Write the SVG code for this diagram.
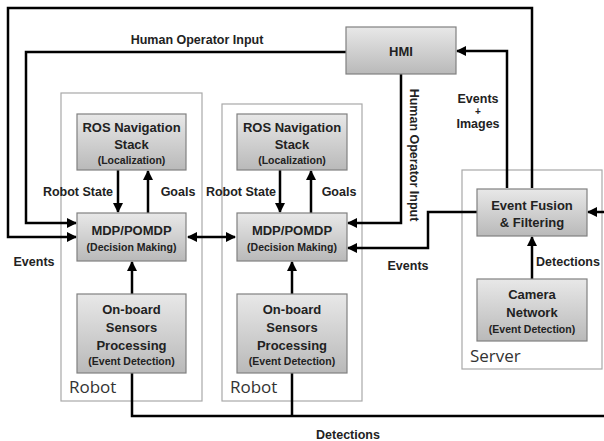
<svg xmlns="http://www.w3.org/2000/svg" width="604" height="441" viewBox="0 0 604 441">
<defs>
<linearGradient id="g" x1="0" y1="0" x2="0" y2="1">
<stop offset="0" stop-color="#e8e8e8"/>
<stop offset="1" stop-color="#b9b9b9"/>
</linearGradient>
<marker id="ah" viewBox="0 0 10 10" refX="9" refY="5" markerWidth="4" markerHeight="4" orient="auto-start-reverse" markerUnits="strokeWidth">
<path d="M0,0 L10,5 L0,10 z" fill="#000"/>
</marker>
<style>
.box{fill:url(#g);stroke:#808080;stroke-width:1.2}
.cont{fill:#fff;stroke:#a8a8a8;stroke-width:1.2}
.t{font-family:"Liberation Sans",Arial,sans-serif;font-weight:bold;font-size:13px;fill:#222;text-anchor:middle;dominant-baseline:central}
.s{font-size:10.5px}
.lab{font-family:"Liberation Sans",Arial,sans-serif;font-weight:bold;font-size:12.5px;fill:#222;dominant-baseline:central}
.big{font-family:"Open Sans","Liberation Sans",sans-serif;font-size:17px;fill:#333}
.c{fill:none;stroke:#000;stroke-width:2.5}
.a{marker-end:url(#ah)}
</style>
</defs>
<rect width="604" height="441" fill="#fff"/>
<g id="robot1"><rect class="cont" x="61" y="93" width="141" height="308"/><text class="big" x="69" y="393">Robot</text></g>
<g id="robot2"><rect class="cont" x="222" y="104" width="140" height="297"/><text class="big" x="230" y="393">Robot</text></g>
<g id="server"><rect class="cont" x="462" y="170" width="140" height="199"/><text class="big" x="470" y="362">Server</text></g>

<g id="connectors">
<path class="c a" d="M532,188 V8 H8 V237 H76"/>
<path class="c a" d="M346,52 H26 V223 H76"/>
<path class="c a" d="M401,74 V223 H348"/>
<path class="c a" d="M507,188 V51 H457"/>
<path class="c a" d="M477,212 H428 V248 H348"/>
<path class="c" d="M132,373 V416 H612"/>
<path class="c" d="M292,373 V416"/>
<path class="c a" d="M612,212 H588"/>
<path class="c a" d="M532,279 V237"/>
<path class="c a" d="M118,170 V212"/>
<path class="c a" d="M148,213 V171"/>
<path class="c a" d="M280,170 V212"/>
<path class="c a" d="M311,213 V171"/>
<path class="c a" d="M132,294 V262"/>
<path class="c a" d="M292,294 V262"/>
<path class="c a" style="marker-start:url(#ah)" d="M188,237 H235"/>
</g>

<g id="hmi"><rect class="box" x="346" y="27" width="110" height="47"/><text class="t" x="401" y="51">HMI</text></g>
<g id="ros1"><rect class="box" x="77" y="114" width="109" height="56"/><text class="t" x="131.5" y="127">ROS Navigation</text><text class="t" x="131.5" y="144">Stack</text><text class="t s" x="131.5" y="160">(Localization)</text></g>
<g id="ros2"><rect class="box" x="237" y="114" width="110" height="56"/><text class="t" x="292" y="127">ROS Navigation</text><text class="t" x="292" y="144">Stack</text><text class="t s" x="292" y="160">(Localization)</text></g>
<g id="mdp1"><rect class="box" x="77" y="213" width="109" height="48"/><text class="t" x="131.5" y="230">MDP/POMDP</text><text class="t s" x="131.5" y="247">(Decision Making)</text></g>
<g id="mdp2"><rect class="box" x="237" y="213" width="110" height="48"/><text class="t" x="292" y="230">MDP/POMDP</text><text class="t s" x="292" y="247">(Decision Making)</text></g>
<g id="onboard1"><rect class="box" x="77" y="294" width="109" height="79"/><text class="t" x="131.5" y="309">On-board</text><text class="t" x="131.5" y="327">Sensors</text><text class="t" x="131.5" y="345">Processing</text><text class="t s" x="131.5" y="361">(Event Detection)</text></g>
<g id="onboard2"><rect class="box" x="237" y="294" width="110" height="79"/><text class="t" x="292" y="309">On-board</text><text class="t" x="292" y="327">Sensors</text><text class="t" x="292" y="345">Processing</text><text class="t s" x="292" y="361">(Event Detection)</text></g>
<g id="fusion"><rect class="box" x="477" y="189" width="110" height="47"/><text class="t" x="532" y="205">Event Fusion</text><text class="t" x="532" y="222">&amp; Filtering</text></g>
<g id="camera"><rect class="box" x="477" y="279" width="110" height="62"/><text class="t" x="532" y="294">Camera</text><text class="t" x="532" y="312">Network</text><text class="t s" x="532" y="329">(Event Detection)</text></g>

<g id="labels">
<text class="lab" x="197" y="40" text-anchor="middle">Human Operator Input</text>
<text class="lab" x="414" y="155" text-anchor="middle" transform="rotate(90 414 155)">Human Operator Input</text>
<text class="lab" x="478" y="99" text-anchor="middle">Events</text>
<text class="lab" x="478" y="111" text-anchor="middle" style="font-size:10px">+</text>
<text class="lab" x="478" y="124" text-anchor="middle">Images</text>
<text class="lab" x="78" y="192" text-anchor="middle">Robot State</text>
<text class="lab" x="178" y="192" text-anchor="middle">Goals</text>
<text class="lab" x="241" y="192" text-anchor="middle">Robot State</text>
<text class="lab" x="339" y="192" text-anchor="middle">Goals</text>
<text class="lab" x="34" y="262" text-anchor="middle">Events</text>
<text class="lab" x="408" y="266" text-anchor="middle">Events</text>
<text class="lab" x="568" y="262" text-anchor="middle">Detections</text>
<text class="lab" x="348" y="435" text-anchor="middle">Detections</text>
</g>
</svg>
